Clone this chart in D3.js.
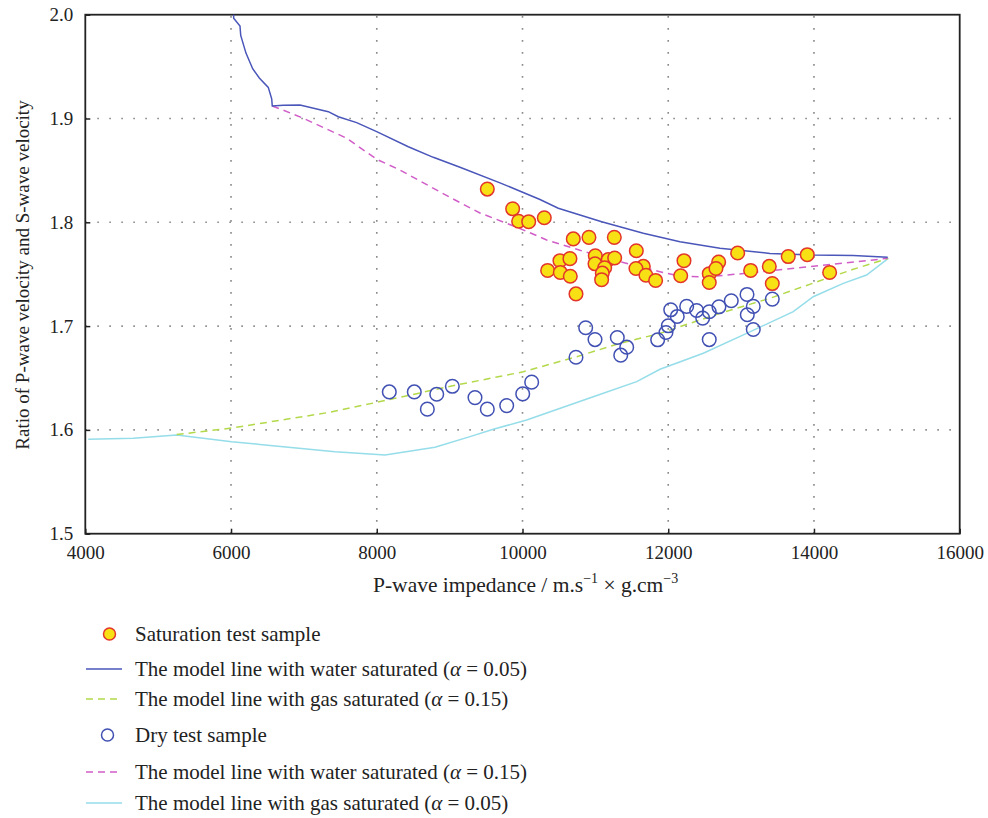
<!DOCTYPE html>
<html>
<head>
<meta charset="utf-8">
<script src="https://cdn.jsdelivr.net/npm/d3@7"></script>
<style>
  body { margin: 0; background: #fff; }
  text { font-family: "Liberation Serif", "DejaVu Serif", serif; fill: #222; }
</style>
</head>
<body>
<script>
// chart size and plot box
const width = 988,
  height = 818,
  plotLeft = 85.3, plotRight = 959.7,
  plotTop = 14.7, plotBottom = 533.7;

// axis ticks
const xTicks = [4000, 6000, 8000, 10000, 12000, 14000, 16000];
const yTicks = [1.5, 1.6, 1.7, 1.8, 1.9, 2.0];

// saturation test sample [impedance, Vp/Vs]
const satSamples = [
  [9517, 1.832], [9865, 1.813], [9947, 1.801], [10085, 1.8006], [10299, 1.8044],
  [10697, 1.784], [10912, 1.7855], [11260, 1.7855], [11562, 1.7726], [12216, 1.763],
  [12692, 1.7617], [10514, 1.763], [10651, 1.765], [10345, 1.7536], [10519, 1.7517],
  [10656, 1.748], [10734, 1.731], [10999, 1.7678], [10995, 1.760], [11177, 1.764],
  [11265, 1.7656], [11128, 1.7562], [11095, 1.751], [11086, 1.7447], [11658, 1.7575],
  [11557, 1.7555], [11694, 1.749], [11827, 1.744], [12171, 1.7485], [12563, 1.7505],
  [12655, 1.7555], [12563, 1.742], [12953, 1.7704], [13647, 1.767], [13908, 1.7688],
  [13387, 1.7575], [13131, 1.7536], [13428, 1.741], [14215, 1.7517]
];

// dry test sample
const drySamples = [
  [8172, 1.6366], [8515, 1.6366], [8694, 1.620], [8823, 1.6344], [9037, 1.642],
  [9348, 1.6311], [9517, 1.620], [9783, 1.6234], [10003, 1.6347], [10126, 1.646],
  [10734, 1.670], [10867, 1.6984], [10995, 1.687], [11301, 1.689], [11430, 1.6797],
  [11348, 1.672], [11855, 1.6868], [12034, 1.7157], [12124, 1.7093], [12253, 1.719],
  [12390, 1.715], [12473, 1.7077], [12563, 1.7138], [12696, 1.7186], [12865, 1.7244],
  [13081, 1.7305], [13167, 1.719], [13085, 1.7109], [13167, 1.6967], [12563, 1.687],
  [13428, 1.726], [12001, 1.7003], [11969, 1.6938]
];

// model line, water saturated, alpha = 0.05
const water005 = [
  [6036, 2.005], [6036, 1.9965], [6123, 1.989], [6133, 1.980], [6205, 1.963],
  [6297, 1.948], [6388, 1.939], [6511, 1.930], [6558, 1.919], [6566, 1.912],
  [6717, 1.9127], [6946, 1.913], [7335, 1.9066], [7472, 1.9017], [7724, 1.896],
  [7999, 1.8873], [8433, 1.8728], [8776, 1.8626], [9142, 1.853], [9691, 1.838],
  [10240, 1.822], [10491, 1.8135], [11087, 1.8006], [11658, 1.7894], [12161, 1.7813],
  [12710, 1.775], [13396, 1.770], [13990, 1.7685], [14539, 1.768], [15012, 1.7663]
];

// model line, water saturated, alpha = 0.15
const water015 = [
  [6566, 1.912], [6717, 1.908], [6992, 1.9002], [7587, 1.881], [7999, 1.8607],
  [8318, 1.8504], [9005, 1.824], [9416, 1.809], [9965, 1.794], [10332, 1.783],
  [10789, 1.773], [11338, 1.762], [11887, 1.7524], [12161, 1.748], [12527, 1.7474],
  [13167, 1.7515], [13853, 1.7566], [15012, 1.7653]
];

// model line, gas saturated, alpha = 0.15
const gas015 = [
  [5254, 1.5955], [6009, 1.6018], [7358, 1.617], [7976, 1.6262], [9028, 1.6423],
  [10011, 1.656], [10743, 1.6705], [11338, 1.6834], [11887, 1.693], [12710, 1.7123],
  [13396, 1.7268], [14082, 1.7437], [14539, 1.7547], [15020, 1.7653]
];

// model line, gas saturated, alpha = 0.05
const gas005 = [
  [4041, 1.591], [4659, 1.592], [5254, 1.595], [6009, 1.5886], [6397, 1.586],
  [7427, 1.579], [8113, 1.5758], [8799, 1.5832], [9302, 1.594], [9599, 1.6006],
  [10057, 1.6095], [10971, 1.632], [11567, 1.6465], [11887, 1.6584], [12481, 1.6738],
  [13076, 1.693], [13716, 1.7139], [13990, 1.7283], [14402, 1.7412], [14722, 1.7492],
  [15020, 1.7653]
];

const legendItems = [
  { label: "Saturation test sample", type: "sat" },
  { label: "The model line with water saturated (", alpha: "0.05", type: "line", color: "#4a56b9", dash: null },
  { label: "The model line with gas saturated (", alpha: "0.15", type: "line", color: "#b3d94a", dash: "7,5" },
  { label: "Dry test sample", type: "dry" },
  { label: "The model line with water saturated (", alpha: "0.15", type: "line", color: "#d15ec8", dash: "7,5" },
  { label: "The model line with gas saturated (", alpha: "0.05", type: "line", color: "#95dde9", dash: null }
];
const legendRows = [634, 669, 699, 735, 772, 803];

const xScale = d3.scaleLinear().domain([4000, 16000]).range([plotLeft, plotRight]);
const yScale = d3.scaleLinear().domain([1.5, 2.0]).range([plotBottom, plotTop]);

const svg = d3.select("body").append("svg")
  .attr("width", width)
  .attr("height", height);

svg.append("clipPath").attr("id", "plotclip")
  .append("rect")
  .attr("x", plotLeft).attr("y", plotTop)
  .attr("width", plotRight - plotLeft).attr("height", plotBottom - plotTop);

// dotted grid
const grid = svg.append("g").attr("stroke", "#8a8a8a").attr("stroke-width", 1.6)
  .attr("stroke-dasharray", "1.6,10.4");
grid.selectAll(".gx").data(xTicks.slice(1, -1)).enter().append("line")
  .attr("x1", d => xScale(d)).attr("x2", d => xScale(d))
  .attr("y1", plotBottom).attr("y2", plotTop);
grid.selectAll(".gy").data(yTicks.slice(1, -1)).enter().append("line")
  .attr("x1", plotLeft).attr("x2", plotRight)
  .attr("y1", d => yScale(d)).attr("y2", d => yScale(d));

// axes with inward ticks
svg.append("g")
  .attr("transform", `translate(0,${plotBottom})`)
  .call(d3.axisBottom(xScale).tickValues(xTicks).tickSizeInner(-5).tickSizeOuter(0).tickPadding(12).tickFormat(d3.format("d")))
  .call(g => g.select(".domain").remove())
  .call(g => g.selectAll("line").attr("stroke", "#222").attr("stroke-width", 1.5))
  .call(g => g.selectAll("text").attr("font-size", 19).attr("font-family", "Liberation Serif").attr("fill", "#222"));

svg.append("g")
  .attr("transform", `translate(${plotLeft},0)`)
  .call(d3.axisLeft(yScale).tickValues(yTicks).tickSizeInner(-5).tickSizeOuter(0).tickPadding(12).tickFormat(d3.format(".1f")))
  .call(g => g.select(".domain").remove())
  .call(g => g.selectAll("line").attr("stroke", "#222").attr("stroke-width", 1.5))
  .call(g => g.selectAll("text").attr("font-size", 19).attr("font-family", "Liberation Serif").attr("fill", "#222"));

// frame
svg.append("rect")
  .attr("x", plotLeft).attr("y", plotTop)
  .attr("width", plotRight - plotLeft).attr("height", plotBottom - plotTop)
  .attr("fill", "none").attr("stroke", "#222").attr("stroke-width", 1.8);

// model lines
const line = d3.line().x(d => xScale(d[0])).y(d => yScale(d[1]));
const plot = svg.append("g").attr("clip-path", "url(#plotclip)");

const series = [
  { data: gas005, color: "#95dde9", dash: null },
  { data: gas015, color: "#b3d94a", dash: "7,5" },
  { data: water015, color: "#d15ec8", dash: "7,5" },
  { data: water005, color: "#4a56b9", dash: null }
];
plot.selectAll("path.model").data(series).enter().append("path")
  .attr("class", "model")
  .attr("d", d => line(d.data))
  .attr("fill", "none")
  .attr("stroke", d => d.color)
  .attr("stroke-width", 1.5)
  .attr("stroke-dasharray", d => d.dash);

// dry samples
plot.selectAll("circle.dry").data(drySamples).enter().append("circle")
  .attr("class", "dry")
  .attr("cx", d => xScale(d[0])).attr("cy", d => yScale(d[1]))
  .attr("r", 6.8)
  .attr("fill", "none").attr("stroke", "#4150b3").attr("stroke-width", 1.5);

// saturation samples
plot.selectAll("circle.sat").data(satSamples).enter().append("circle")
  .attr("class", "sat")
  .attr("cx", d => xScale(d[0])).attr("cy", d => yScale(d[1]))
  .attr("r", 6.8)
  .attr("fill", "#f7e014").attr("stroke", "#e3352a").attr("stroke-width", 1.5);

// axis titles
const xLabel = svg.append("text")
  .attr("x", 373).attr("y", 592)
  .attr("font-size", 21.5);
xLabel.append("tspan").text("P-wave impedance / m.s");
xLabel.append("tspan").attr("font-size", 14).attr("dy", -9).text("\u22121");
xLabel.append("tspan").attr("dy", 9).text(" \u00d7 g.cm");
xLabel.append("tspan").attr("font-size", 14).attr("dy", -9).text("\u22123");

svg.append("text")
  .attr("transform", `translate(29,275) rotate(-90)`)
  .attr("text-anchor", "middle").attr("font-size", 19)
  .text("Ratio of P-wave velocity and S-wave velocity");

// legend
const legend = svg.append("g");
legendItems.forEach((item, i) => {
  const y = legendRows[i];
  const g = legend.append("g").attr("transform", `translate(0,${y})`);
  if (item.type === "sat") {
    g.append("circle").attr("cx", 109.5).attr("cy", 0).attr("r", 6)
      .attr("fill", "#f7e014").attr("stroke", "#e3352a").attr("stroke-width", 1.5);
  } else if (item.type === "dry") {
    g.append("circle").attr("cx", 107.5).attr("cy", 0).attr("r", 6)
      .attr("fill", "none").attr("stroke", "#4150b3").attr("stroke-width", 1.5);
  } else {
    g.append("line").attr("x1", 86).attr("x2", 122).attr("y1", 0).attr("y2", 0)
      .attr("stroke", item.color).attr("stroke-width", 1.5)
      .attr("stroke-dasharray", item.dash);
  }
  const t = g.append("text").attr("x", 135).attr("y", 6.5).attr("font-size", 21);
  t.append("tspan").text(item.label);
  if (item.alpha) {
    t.append("tspan").attr("font-style", "italic").text("\u03b1");
    t.append("tspan").text(" = " + item.alpha + ")");
  }
});
</script>
</body>
</html>
